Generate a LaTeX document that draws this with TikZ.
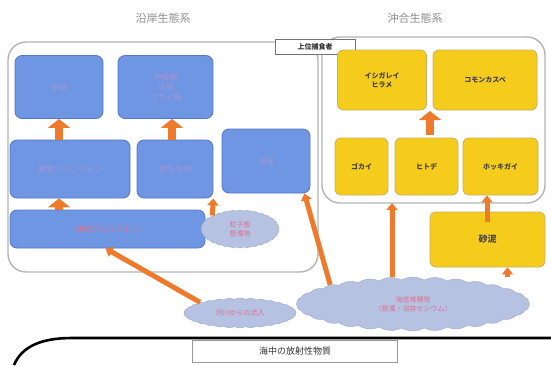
\documentclass[tikz,border=0pt]{standalone}
\usepackage{fontspec}
\newfontfamily\jp{Noto Sans CJK JP}
\usetikzlibrary{arrows.meta,shapes.symbols,calc}
\definecolor{bluebox}{HTML}{6F96E2}
\definecolor{blueedge}{HTML}{5577C8}
\definecolor{yellowbox}{HTML}{F6CC1C}
\definecolor{yellowedge}{HTML}{C8B060}
\definecolor{cloudfill}{HTML}{B6C2E2}
\definecolor{cloudedge}{HTML}{9AA8CC}
\definecolor{arrorange}{HTML}{F07A2C}
\definecolor{faint}{HTML}{A494D6}
\definecolor{pinktext}{HTML}{E0708E}
\definecolor{contedge}{HTML}{B4B4B4}
\tikzset{
  every node/.style={font=\jp},
  bluebox/.style={draw=blueedge, fill=bluebox, rounded corners=7pt, line width=0.8pt,
    text=faint, font=\jp\fontsize{8}{10}\selectfont, align=center, inner sep=0pt},
  ybox/.style={draw=yellowedge, fill=yellowbox, rounded corners=6pt, line width=0.8pt,
    text=black!75, font=\jp\fontsize{7}{9}\selectfont\bfseries, align=center, inner sep=0pt},
  cloudnode/.style={cloud, cloud puffs=32, cloud puff arc=60, cloud ignores aspect, draw=cloudedge, fill=cloudfill,
    text=pinktext, font=\jp\fontsize{7}{9}\selectfont, align=center, inner sep=0pt},
  container/.style={draw=contedge, fill=white, rounded corners=18pt, line width=1.4pt},
  fatarr/.style={draw=arrorange, line width=8pt, -{Triangle[width=22pt,length=9pt]}},
  thinarr/.style={draw=arrorange, line width=5pt, -{Triangle[width=11pt,length=7pt]}},
  title/.style={text=black!45, font=\jp\fontsize{11}{13}\selectfont}
}
\begin{document}
\begin{tikzpicture}[x=1pt,y=-1pt]
\useasboundingbox (0,0) rectangle (551,365);
% containers
\draw[container] (8,42) rectangle (318,272);
\draw[container] (322,37) rectangle (545,203);
\node[title] (t1) at (163,18) {沿岸生態系};
\node[title] (t2) at (415,18) {沖合生態系};
\node[draw=black!55, fill=white, line width=0.8pt, minimum width=80pt, minimum height=15pt,
  inner sep=0pt, font=\jp\fontsize{7}{9}\selectfont\bfseries, text=black!80] (top) at (315,47) {上位捕食者};
% blue boxes
\node[bluebox, minimum width=88pt, minimum height=63pt] (tl) at (59,87) {魚類};
\node[bluebox, minimum width=95pt, minimum height=63pt] (tm) at (165.5,87) {甲殻類\\貝類\\ゴカイ類};
\node[bluebox, minimum width=120pt, minimum height=58pt] (ml) at (70,169) {動物プランクトン};
\node[bluebox, minimum width=76pt, minimum height=58pt] (mm) at (175,169) {底生生物};
\node[bluebox, minimum width=88pt, minimum height=64pt] (mr) at (266,161) {海藻};
\node[bluebox, minimum width=195pt, minimum height=38pt, text=pinktext] (bb) at (107.5,229) {植物プランクトン};
\node[cloudnode, minimum width=78pt, minimum height=38pt] (sc) at (240,229) {粒子態\\懸濁物};
% yellow boxes
\node[ybox, minimum width=89pt, minimum height=60pt] (y1) at (382,80) {イシガレイ\\ヒラメ};
\node[ybox, minimum width=104pt, minimum height=60pt] (y2) at (485,80) {コモンカスベ};
\node[ybox, minimum width=53pt, minimum height=57pt] (y3) at (361.5,166.5) {ゴカイ};
\node[ybox, minimum width=63pt, minimum height=57pt] (y4) at (426.5,166.5) {ヒトデ};
\node[ybox, minimum width=75pt, minimum height=57pt] (y5) at (500.5,166.5) {ホッキガイ};
\node[ybox, minimum width=115pt, minimum height=55pt, font=\jp\fontsize{9}{11}\selectfont\bfseries] (y6) at (487.5,239.5) {砂泥};
% clouds
\node[cloudnode, minimum width=112pt, minimum height=30pt] (lc) at (240,313) {河川からの流入};
\node[cloudnode, minimum width=233pt, minimum height=54pt] (mc) at (413,304) {海底堆積物\\（懸濁・溶存セシウム）};
% arrows
\coordinate (rowtop) at (430,135);
\coordinate (toprow) at (430,111);
\draw[fatarr] (ml.north -| tl) -- (tl.south);
\draw[fatarr] ([xshift=-3pt]mm.north) -- ([xshift=-3pt]mm.north |- tm.south);
\draw[fatarr] (bb.north -| tl) -- (ml.south -| tl);
\draw[thinarr] (sc.north west) -- (mm.south east);
\draw[thinarr] (lc.north west) -- ([xshift=-2pt]bb.south);
\draw[thinarr] (mc.north west) -- ([xshift=-6pt]mr.south east);
\coordinate (cb) at (392,203);
\draw[thinarr] (mc.north -| cb) -- (cb);
\draw[thinarr] ([xshift=20pt]mc.north -| y6) -- ([xshift=20pt]y6.south);
\coordinate (y6top) at (487,222);
\draw[thinarr] (y6top) -- (y6top |- y5.south);
\draw[fatarr] (rowtop) -- (toprow);
% bottom
\draw[line width=2.6pt] (14,365) .. controls (22,346) and (42,338) .. (72,338) -- (551,338);
\node[draw=black!40, line width=0.8pt, fill=white, minimum width=205pt, minimum height=22pt,
  inner sep=0pt, font=\jp\fontsize{9}{11}\selectfont, text=black!80] (sea) at (295,351) {海中の放射性物質};
\end{tikzpicture}
\end{document}
